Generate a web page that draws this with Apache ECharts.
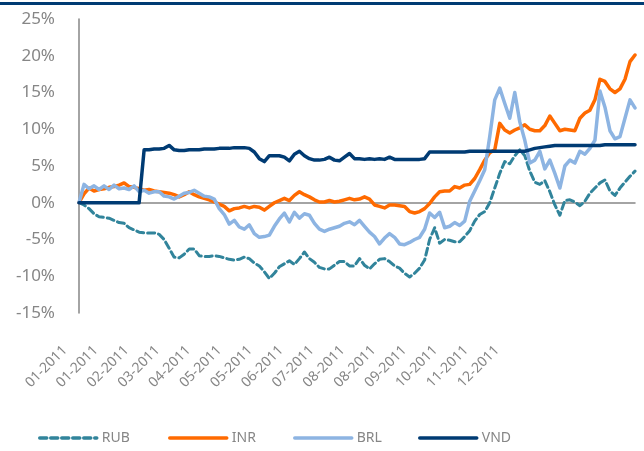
<!DOCTYPE html>
<html>
<head>
<meta charset="utf-8">
<script src="https://cdn.jsdelivr.net/npm/echarts@6/dist/echarts.min.js"></script>
<style>
  html, body { margin: 0; padding: 0; background: #fff; }
  #chart { width: 644px; height: 451px; }
</style>
</head>
<body>
<div id="chart"></div>
<script>
//****************************** Data (% change) ***********************************************************//

var xLabels = ["01-2011", "01-2011", "02-2011", "03-2011", "04-2011", "05-2011", "05-2011", "06-2011",
  "07-2011", "08-2011", "08-2011", "09-2011", "10-2011", "11-2011", "12-2011"];

var rub = [0, -0.3, -0.8, -1.5, -1.9, -2.0, -2.1, -2.4, -2.7, -2.8, -3.4, -3.7, -4.0, -4.1, -4.1, -4.1,
  -4.3, -5.0, -6.2, -7.4, -7.5, -7.0, -6.3, -6.3, -7.2, -7.3, -7.3, -7.2, -7.3, -7.5, -7.7, -7.8,
  -7.7, -7.4, -7.6, -8.2, -8.6, -9.4, -10.3, -9.6, -8.7, -8.3, -7.9, -8.4, -7.6, -6.7, -7.6, -8.1,
  -8.8, -9.0, -9.0, -8.5, -8.0, -8.0, -8.6, -8.6, -7.6, -8.5, -9.0, -8.3, -7.7, -7.6, -8.0, -8.6,
  -8.9, -9.6, -10.1, -9.6, -8.9, -7.8, -5.0, -3.4, -5.5, -5.0, -5.1, -5.3, -5.3, -4.6, -3.8, -2.5,
  -1.6, -1.2, 0.0, 2.0, 4.0, 5.6, 5.3, 6.4, 7.2, 6.4, 4.3, 2.8, 2.5, 3.0, 1.5, -0.3,
  -1.7, 0.3, 0.4, 0.1, -0.4, 0.2, 1.3, 2.0, 2.7, 3.1, 1.6, 1.0, 2.0, 2.8, 3.6, 4.3];

var inr = [0, 1.2, 2.0, 1.6, 1.8, 1.9, 2.1, 2.2, 2.4, 2.7, 2.2, 2.1, 1.9, 1.7, 1.8, 1.6,
  1.5, 1.4, 1.3, 1.1, 0.8, 1.1, 1.5, 1.1, 0.8, 0.6, 0.4, 0.1, -0.2, -0.5, -1.1, -0.8,
  -0.7, -0.5, -0.7, -0.5, -0.6, -1.0, -0.5, 0.0, 0.3, 0.6, 0.3, 1.0, 1.5, 1.1, 0.8, 0.4,
  0.1, 0.1, 0.3, 0.1, 0.2, 0.4, 0.6, 0.4, 0.5, 0.8, 0.5, -0.3, -0.5, -0.7, -0.3, -0.3,
  -0.4, -0.5, -1.2, -1.4, -1.2, -0.8, -0.1, 0.8, 1.5, 1.6, 1.6, 2.2, 2.0, 2.4, 2.5, 3.3,
  4.5, 5.8, 6.8, 7.2, 10.8, 9.9, 9.5, 9.9, 10.2, 10.6, 10.0, 9.8, 9.8, 10.5, 11.8, 10.8,
  9.8, 10.0, 9.9, 9.8, 11.5, 12.2, 12.6, 14.0, 16.8, 16.5, 15.5, 15.0, 15.5, 16.8, 19.2, 20.1];

var brl = [0, 2.5, 1.9, 2.3, 1.8, 2.3, 1.8, 2.4, 1.9, 2.0, 1.8, 2.3, 1.5, 1.7, 1.3, 1.5,
  1.5, 0.9, 0.8, 0.5, 0.9, 1.3, 1.4, 1.7, 1.3, 0.9, 0.8, 0.5, -0.8, -1.6, -2.9, -2.4,
  -3.3, -3.6, -3.0, -4.2, -4.7, -4.6, -4.4, -3.2, -2.2, -1.4, -2.6, -1.3, -2.1, -1.5, -1.7, -2.8,
  -3.6, -3.9, -3.6, -3.4, -3.2, -2.8, -2.6, -3.0, -2.4, -3.2, -4.0, -4.6, -5.6, -4.8, -4.2, -4.7,
  -5.6, -5.7, -5.4, -5.0, -4.7, -3.6, -1.4, -2.0, -1.3, -3.4, -3.2, -2.7, -3.1, -2.5, 0.2, 1.6,
  3.0, 4.5, 9.0, 14.0, 15.6, 13.5, 11.5, 15.0, 11.0, 8.5, 5.4, 5.8, 7.0, 4.6, 5.8, 4.0,
  2.0, 5.0, 5.8, 5.4, 7.0, 6.6, 7.4, 8.5, 15.2, 13.0, 9.8, 8.7, 9.0, 11.5, 14.0, 12.9];

var vnd = [0, 0, 0, 0, 0, 0, 0, 0, 0, 0, 0, 0, 0, 7.2, 7.2, 7.3,
  7.3, 7.4, 7.8, 7.2, 7.1, 7.1, 7.2, 7.2, 7.2, 7.3, 7.3, 7.3, 7.4, 7.4, 7.4, 7.5,
  7.5, 7.5, 7.4, 6.9, 6.0, 5.6, 6.4, 6.4, 6.4, 6.2, 5.7, 6.6, 7.0, 6.4, 6.0, 5.8,
  5.8, 5.9, 6.2, 5.8, 5.7, 6.2, 6.7, 6.0, 6.0, 5.9, 6.0, 5.9, 6.0, 5.9, 6.2, 5.9,
  5.9, 5.9, 5.9, 5.9, 5.9, 6.0, 6.9, 6.9, 6.9, 6.9, 6.9, 6.9, 6.9, 6.9, 7.0, 7.0,
  7.0, 7.0, 7.0, 7.0, 7.0, 7.0, 7.0, 7.0, 7.0, 7.0, 7.2, 7.4, 7.5, 7.6, 7.7, 7.8,
  7.8, 7.8, 7.8, 7.8, 7.8, 7.8, 7.8, 7.8, 7.8, 7.9, 7.9, 7.9, 7.9, 7.9, 7.9, 7.9];

var seriesNames = ["RUB", "INR", "BRL", "VND"];
var seriesColors = ["#31849B", "#FF6A00", "#8DB4E2", "#003B73"];

//****************************** Chart *************************************//

var dom = document.getElementById("chart");
var myChart = echarts.init(dom, null, { renderer: "canvas" });

var gray = "#868686";
var fontFam = "'Noto Sans', 'Liberation Sans', sans-serif";
var days = rub.map(function (v, i) { return i; });
var values = [rub, inr, brl, vnd];

var series = seriesNames.map(function (name, i) {
  return {
    name: name,
    type: "line",
    xAxisIndex: 0,
    yAxisIndex: 0,
    data: values[i],
    symbol: "none",
    showSymbol: false,
    smooth: false,
    animation: false,
    lineStyle: {
      color: seriesColors[i],
      width: i == 0 ? 3 : 3.5,
      type: i == 0 ? [7, 4] : "solid",
      cap: "round",
      join: "round"
    },
    itemStyle: { color: seriesColors[i] }
  };
});

// one legend per item so each sits where the reference puts it
var legendLeft = [38, 168, 293, 418];
var legends = seriesNames.map(function (name, i) {
  return {
    data: [name],
    left: legendLeft[i],
    top: 431,
    padding: 0,
    itemWidth: 57,
    itemHeight: 14,
    itemGap: 5,
    itemStyle: { opacity: 0 },
    lineStyle: { width: 3.5 },
    textStyle: { color: gray, fontSize: 14, fontFamily: fontFam },
    selectedMode: false
  };
});

var option = {
  backgroundColor: "#ffffff",
  animation: false,
  graphic: [
    {
      type: "rect",
      shape: { x: 0, y: 2, width: 644, height: 3 },
      style: { fill: "#003B73" },
      silent: true
    }
  ],
  legend: legends,
  grid: [
    { left: 79, right: 9, top: 19, bottom: 138, containLabel: false },
    { left: 65, width: 432, top: 339, height: 1, containLabel: false }
  ],
  xAxis: [
    {
      type: "category",
      gridIndex: 0,
      data: days,
      boundaryGap: false,
      axisLine: { show: true, onZero: true, lineStyle: { color: gray, width: 1.5 } },
      axisTick: { show: false },
      axisLabel: { show: false },
      splitLine: { show: false }
    },
    {
      type: "category",
      gridIndex: 1,
      data: xLabels,
      boundaryGap: false,
      axisLine: { show: false },
      axisTick: { show: false },
      axisLabel: {
        interval: 0,
        rotate: 45,
        margin: 8,
        color: gray,
        fontSize: 14,
        fontFamily: fontFam
      },
      splitLine: { show: false }
    }
  ],
  yAxis: [
    {
      type: "value",
      gridIndex: 0,
      min: -15,
      max: 25,
      interval: 5,
      axisLine: { show: true, lineStyle: { color: gray, width: 1.5 } },
      axisTick: { show: false },
      splitLine: { show: false },
      axisLabel: {
        formatter: "{value}%",
        color: gray,
        fontSize: 17,
        fontFamily: fontFam,
        margin: 24
      }
    },
    {
      type: "value",
      gridIndex: 1,
      show: false
    }
  ],
  series: series
};

myChart.setOption(option);
window.addEventListener("resize", myChart.resize);
</script>
</body>
</html>
